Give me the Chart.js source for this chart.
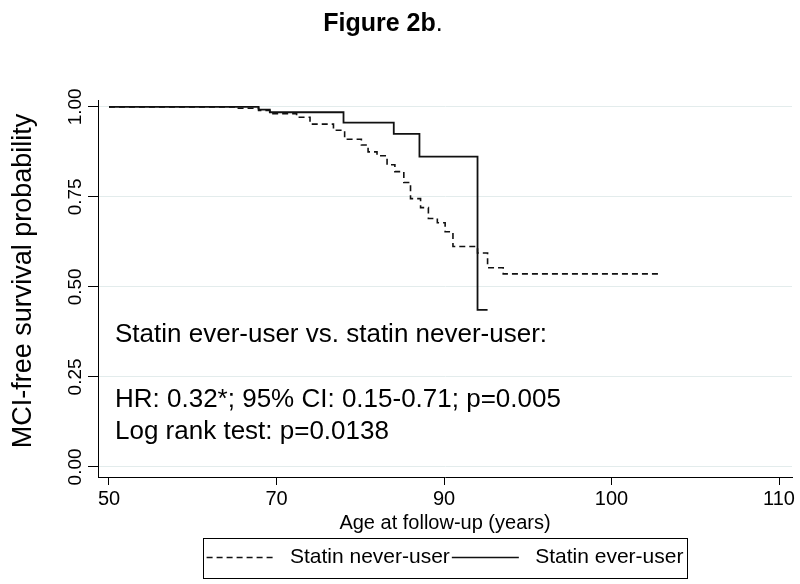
<!DOCTYPE html>
<html>
<head>
<meta charset="utf-8">
<script src="https://cdn.jsdelivr.net/npm/chart.js@4.4.1/dist/chart.umd.min.js"></script>
<style>
  body { margin: 0; background: #fff; }
  #wrap { width: 800px; height: 584px; position: relative; }
</style>
</head>
<body>
<div id="wrap"><canvas id="chart"></canvas></div>
<script>
// axis ticks (ticks are evenly spaced in the figure, labels as printed)
var xTickPos = [50, 65, 80, 95, 110];
var xTickLabels = ['50', '70', '90', '100', '110'];
var yTickPos = [0, 0.25, 0.5, 0.75, 1];
var yTickLabels = ['0.00', '0.25', '0.50', '0.75', '1.00'];

// Statin never-user (dashed)
var neverAge  = [50.0, 61.3, 63.4, 64.4, 66.8, 68.0, 70.1, 71.1, 72.6, 73.2, 74.0, 74.9, 75.6, 76.4, 77.0, 77.9, 78.6, 79.4, 80.1, 80.8, 83.0, 83.9, 85.3, 99.5];
var neverSurv = [1.000, 0.996, 0.990, 0.981, 0.971, 0.952, 0.935, 0.910, 0.894, 0.875, 0.864, 0.839, 0.820, 0.790, 0.745, 0.720, 0.690, 0.678, 0.653, 0.612, 0.594, 0.553, 0.536, 0.536];

// Statin ever-user (solid)
var everAge  = [50.0, 63.4, 64.4, 71.0, 75.5, 77.8, 83.0, 83.9];
var everSurv = [1.000, 0.992, 0.985, 0.956, 0.925, 0.862, 0.436, 0.436];

var noteLines = ['Statin ever-user vs. statin never-user:', 'HR: 0.32*; 95% CI: 0.15-0.71; p=0.005', 'Log rank test: p=0.0138'];
var noteY = [0.367, 0.186, 0.097];

var FONT = '"Liberation Sans", Arial, Helvetica, sans-serif';

function toPoints(xs, ys){
    var pts = [];
    for(var i = 0; i < xs.length; i++){
        pts.push({x: xs[i], y: ys[i]})
    }
    return pts
}

//plugin per titolo, etichette ruotate, testo e riquadro legenda
var extras = {
    id: 'extras',
    afterDraw: function(chart){
        var ctx = chart.ctx;
        var ys = chart.scales.y;
        var area = chart.chartArea;
        ctx.save();
        ctx.fillStyle = '#000';

        // title: "Figure 2b" bold + "."
        ctx.textBaseline = 'alphabetic';
        ctx.font = 'bold 25px ' + FONT;
        var w1 = ctx.measureText('Figure 2b').width;
        ctx.font = '25px ' + FONT;
        var w2 = ctx.measureText('.').width;
        var tx = 383 - (w1 + w2) / 2;
        ctx.font = 'bold 25px ' + FONT;
        ctx.textAlign = 'left';
        ctx.fillText('Figure 2b', tx, 31);
        ctx.font = '25px ' + FONT;
        ctx.fillText('.', tx + w1, 31);

        // rotated y tick labels
        ctx.font = '19px ' + FONT;
        ctx.textAlign = 'center';
        ctx.textBaseline = 'middle';
        yTickPos.forEach(function(v, i){
            ctx.save();
            ctx.translate(76, ys.getPixelForValue(v));
            ctx.rotate(-Math.PI / 2);
            ctx.fillText(yTickLabels[i], 0, 0);
            ctx.restore();
        });

        // y axis title
        ctx.font = '27px ' + FONT;
        ctx.save();
        ctx.translate(24, 281);
        ctx.rotate(-Math.PI / 2);
        ctx.fillText('MCI-free survival probability', 0, 0);
        ctx.restore();

        // annotation text
        ctx.font = '26px ' + FONT;
        ctx.textAlign = 'left';
        noteLines.forEach(function(t, i){
            ctx.fillText(t, area.left + 17, ys.getPixelForValue(noteY[i]));
        });

        // legend frame
        var lg = chart.legend;
        var hb = lg.legendHitBoxes;
        if(hb && hb.length){
            var left = hb[0].left - 4;
            var last = hb[hb.length - 1];
            var right = last.left + last.width + 3;
            var cy = hb[0].top + hb[0].height / 2;
            ctx.strokeStyle = '#000';
            ctx.lineWidth = 1;
            ctx.strokeRect(Math.round(left) + 0.5, Math.round(cy - 20) + 0.5, Math.round(right - left), 40);
        }
        ctx.restore();
    }
};

var ctx1 = document.getElementById('chart');

var chart = new Chart(ctx1, {
    type: 'line',
    data: {
        datasets: [{
            label: 'Statin never-user',
            data: toPoints(neverAge, neverSurv),
            borderColor: '#111',
            borderWidth: 1.6,
            borderDash: [6, 4],
            stepped: 'before',
            pointRadius: 0,
            pointStyle: 'line',
            fill: false
        }, {
            label: 'Statin ever-user',
            data: toPoints(everAge, everSurv),
            borderColor: '#111',
            borderWidth: 1.8,
            stepped: 'before',
            pointRadius: 0,
            pointStyle: 'line',
            fill: false
        }]
    },
    options: {
        responsive: true,
        maintainAspectRatio: false,
        animation: false,
        layout: { padding: { top: 100, left: 0, right: 8, bottom: 6 } },
        plugins: {
            tooltip: { enabled: false },
            title: { display: false },
            legend: {
                position: 'bottom',
                fullSize: false,
                labels: {
                    usePointStyle: true,
                    pointStyleWidth: 67,
                    padding: 2,
                    color: '#000',
                    font: { family: FONT, size: 21 },
                    generateLabels: function(chart){
                        var items = Chart.defaults.plugins.legend.labels.generateLabels(chart);
                        items.forEach(function(it){
                            var ds = chart.data.datasets[it.datasetIndex];
                            it.text = ' ' + it.text;
                            it.lineDash = ds.borderDash || [];
                            it.lineWidth = 1.3;
                            it.strokeStyle = '#111';
                        });
                        return items;
                    }
                }
            }
        },
        scales: {
            x: {
                type: 'linear',
                min: 49.015,
                max: 111.16,
                afterBuildTicks: function(s){
                    s.ticks = xTickPos.map(function(v){ return {value: v} });
                },
                afterFit: function(s){ s.height = 68; },
                ticks: {
                    color: '#000',
                    padding: 2,
                    maxRotation: 0,
                    font: { family: FONT, size: 20 },
                    callback: function(v, i){ return xTickLabels[i]; }
                },
                grid: { drawOnChartArea: false, color: '#000', tickLength: 8 },
                border: { color: '#000', width: 1 },
                title: {
                    display: true,
                    text: 'Age at follow-up (years)',
                    color: '#000',
                    font: { family: FONT, size: 20 },
                    padding: { top: 0, bottom: 10 }
                }
            },
            y: {
                min: -0.028,
                max: 1.019,
                afterBuildTicks: function(s){
                    s.ticks = yTickPos.map(function(v){ return {value: v} });
                },
                afterFit: function(s){ s.width = 98; },
                ticks: { display: false },
                grid: { color: '#e3ecec', tickColor: '#000', tickLength: 10 },
                border: { color: '#000', width: 1 }
            }
        }
    },
    plugins: [extras]
});
</script>
</body>
</html>
